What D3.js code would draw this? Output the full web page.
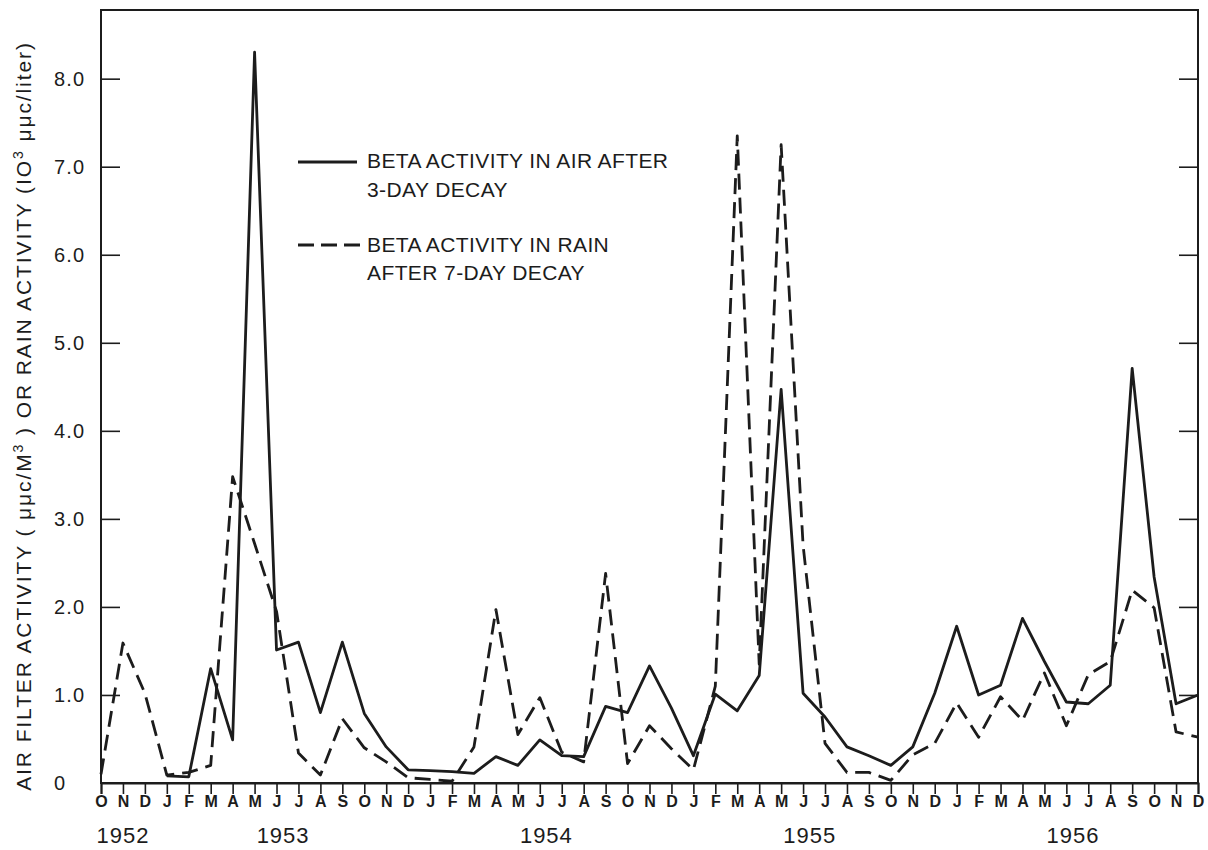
<!DOCTYPE html>
<html><head><meta charset="utf-8">
<script src="https://cdn.jsdelivr.net/npm/d3@7"></script>
<style>body{margin:0;background:#fff}</style>
</head><body>
<svg id="chart" width="1208" height="850"></svg>
<script>
// ---- data ----
const monthLabels = ["O","N","D",
  "J","F","M","A","M","J","J","A","S","O","N","D",
  "J","F","M","A","M","J","J","A","S","O","N","D",
  "J","F","M","A","M","J","J","A","S","O","N","D",
  "J","F","M","A","M","J","J","A","S","O","N","D"];
const yearLabels = ["1952","1953","1954","1955","1956"];
const yearMonthIndex = [1, 8.3, 20.3, 32.3, 44.3];
const yTickValues = [0,1,2,3,4,5,6,7,8];
const yTickLabels = ["0","1.0","2.0","3.0","4.0","5.0","6.0","7.0","8.0"];
// Beta activity in air after 3-day decay (solid)
const airActivity = [null,null,null,
  0.08,0.07,1.30,0.49,8.30,1.51,1.60,0.80,1.60,0.79,0.41,0.15,
  0.14,0.13,0.11,0.30,0.20,0.49,0.31,0.30,0.87,0.80,1.33,0.85,
  0.31,1.01,0.82,1.22,4.47,1.02,0.75,0.41,0.31,0.20,0.41,1.02,
  1.78,1.00,1.11,1.87,1.38,0.92,0.90,1.11,4.71,2.34,0.90,1.00];
// Beta activity in rain after 7-day decay (dashed)
const rainActivity = [0.10,1.59,1.02,
  0.09,0.12,0.20,3.48,2.72,1.95,0.34,0.09,0.73,0.40,0.24,0.06,
  0.04,0.02,0.41,1.97,0.55,0.97,0.35,0.24,2.38,0.22,0.65,0.39,
  0.15,1.10,7.35,1.35,7.25,2.70,0.45,0.12,0.12,0.03,0.32,0.45,
  0.91,0.52,0.98,0.71,1.25,0.65,1.23,1.38,2.19,1.99,0.58,0.52];
const legendAir = ["BETA ACTIVITY IN AIR AFTER","3-DAY DECAY"];
const legendRain = ["BETA ACTIVITY IN RAIN","AFTER 7-DAY DECAY"];

// ---- layout ----
const L = 101, R = 1198, T = 10, B = 783;
const ink = "#1c1c1c";
const font = "'Liberation Sans', Arial, sans-serif";
const svg = d3.select("#chart");
svg.append("rect").attr("width",1208).attr("height",850).attr("fill","#fff");

const x = d3.scaleLinear().domain([0, monthLabels.length-1]).range([L, R]);
const y = d3.scaleLinear().domain([0, 8.78]).range([B, T]);

// frame
svg.append("rect").attr("x",L).attr("y",T).attr("width",R-L).attr("height",B-T)
  .attr("fill","none").attr("stroke",ink).attr("stroke-width",2);

// bottom axis: month ticks downward
const xAxis = d3.axisBottom(x).tickValues(d3.range(monthLabels.length))
  .tickSize(11).tickFormat(i => monthLabels[i]);
const gx = svg.append("g").attr("transform",`translate(0,${B})`).call(xAxis);
gx.select(".domain").attr("stroke",ink).attr("stroke-width",2);
gx.selectAll(".tick line").attr("stroke",ink).attr("stroke-width",1.6);
gx.selectAll(".tick text").attr("y",13).attr("dy","0.71em")
  .attr("font-family",font).attr("font-size",16).attr("font-weight","bold").attr("fill",ink);

// year labels
svg.append("g").selectAll("text").data(yearLabels).join("text")
  .attr("x",(d,i)=>x(yearMonthIndex[i])).attr("y",843)
  .attr("text-anchor","middle").attr("font-family",font).attr("font-size",22)
  .attr("letter-spacing",1).attr("fill",ink).text(d=>d);

// left / right axes: inside ticks
const yAxisL = d3.axisLeft(y).tickValues(yTickValues.filter(v=>v>0)).tickSize(-19).tickFormat("");
const gyl = svg.append("g").attr("transform",`translate(${L},0)`).call(yAxisL);
gyl.select(".domain").remove();
gyl.selectAll(".tick line").attr("stroke",ink).attr("stroke-width",1.6);
const yAxisR = d3.axisRight(y).tickValues(yTickValues.filter(v=>v>0)).tickSize(-19).tickFormat("");
const gyr = svg.append("g").attr("transform",`translate(${R},0)`).call(yAxisR);
gyr.select(".domain").remove();
gyr.selectAll(".tick line").attr("stroke",ink).attr("stroke-width",1.6);

// y tick labels (left aligned)
svg.append("g").selectAll("text").data(yTickValues).join("text")
  .attr("x",54).attr("y",d=>y(d)).attr("dy","0.36em")
  .attr("font-family",font).attr("font-size",20).attr("letter-spacing",1.2)
  .attr("fill",ink).text((d,i)=>yTickLabels[i]);

// y-axis title
const title = svg.append("text")
  .attr("transform","translate(31,416) rotate(-90)")
  .attr("text-anchor","middle").attr("font-family",font).attr("font-size",21)
  .attr("letter-spacing",1.9).attr("fill",ink);
title.append("tspan").text("AIR FILTER ACTIVITY ( μμc/M");
title.append("tspan").attr("baseline-shift","super").attr("font-size",14).text("3");
title.append("tspan").text(" ) OR RAIN ACTIVITY (IO");
title.append("tspan").attr("baseline-shift","super").attr("font-size",14).text("3");
title.append("tspan").text(" μμc/liter)");

// lines
const lineIdx = d3.line().defined(d=>d.v!=null).x(d=>x(d.i)).y(d=>y(d.v));
svg.append("path").datum(rainActivity.map((v,i)=>({i,v})))
  .attr("d",lineIdx).attr("fill","none").attr("stroke",ink)
  .attr("stroke-width",2.8).attr("stroke-dasharray","16,8").attr("stroke-linejoin","round");
svg.append("path").datum(airActivity.map((v,i)=>({i,v})))
  .attr("d",lineIdx).attr("fill","none").attr("stroke",ink)
  .attr("stroke-width",2.8).attr("stroke-linejoin","round");

// legend
const lg = svg.append("g");
lg.append("line").attr("x1",298).attr("x2",357).attr("y1",162).attr("y2",162)
  .attr("stroke",ink).attr("stroke-width",2.8);
lg.append("line").attr("x1",298).attr("x2",360).attr("y1",245).attr("y2",245)
  .attr("stroke",ink).attr("stroke-width",2.8).attr("stroke-dasharray","16,7");
lg.selectAll("text.a").data(legendAir).join("text").attr("class","a")
  .attr("x",367).attr("y",(d,i)=>168+i*29).attr("font-family",font).attr("font-size",21)
  .attr("letter-spacing",0.4).attr("fill",ink).text(d=>d);
lg.selectAll("text.b").data(legendRain).join("text").attr("class","b")
  .attr("x",367).attr("y",(d,i)=>252+i*28).attr("font-family",font).attr("font-size",21)
  .attr("letter-spacing",0.4).attr("fill",ink).text(d=>d);
</script>
</body></html>
